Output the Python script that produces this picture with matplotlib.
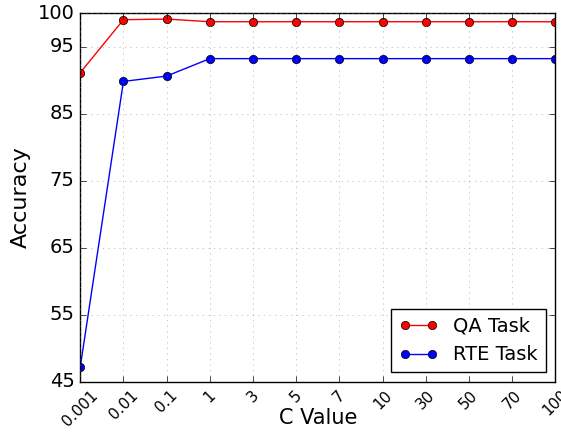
import matplotlib
matplotlib.use("Agg")
import matplotlib.pyplot as plt

plt.style.use("classic")

# C values (categorical on x)
c_labels = ["0.001", "0.01", "0.1", "1", "3", "5", "7", "10", "30", "50", "70", "100"]
qa_acc = [91.1, 99.0, 99.1, 98.7, 98.7, 98.7, 98.7, 98.7, 98.7, 98.7, 98.7, 98.7]
rte_acc = [47.2, 89.8, 90.6, 93.2, 93.2, 93.2, 93.2, 93.2, 93.2, 93.2, 93.2, 93.2]
y_ticks = [45, 55, 65, 75, 85, 95, 100]

x = list(range(len(c_labels)))

fig = plt.figure(figsize=(5.61, 4.34), dpi=100)
ax = fig.add_axes([0.143, 0.12, 0.847, 0.85])

ax.plot(x, qa_acc, "r-o", markersize=6, label="QA Task")
ax.plot(x, rte_acc, "b-o", markersize=6, label="RTE Task")

ax.set_xlim(0, len(c_labels) - 1)
ax.set_ylim(45, 100)
ax.set_xticks(x)
ax.set_xticklabels(c_labels, rotation=45, fontsize=11, ha="center", va="top")
ax.set_yticks(y_ticks)
ax.tick_params(axis="y", labelsize=14)

# x label sits partly between the rotated tick labels, as in the original
ax.set_xlabel("C Value", fontsize=15)
ax.xaxis.label.set_va("baseline")
ax.xaxis.set_label_coords(0.5, -0.115)

ax.set_ylabel("Accuracy", fontsize=16)
ax.grid(True, color="gray", alpha=0.6)
ax.legend(loc="lower right", numpoints=2, fontsize=14)

fig.savefig("out.png", dpi=100)
